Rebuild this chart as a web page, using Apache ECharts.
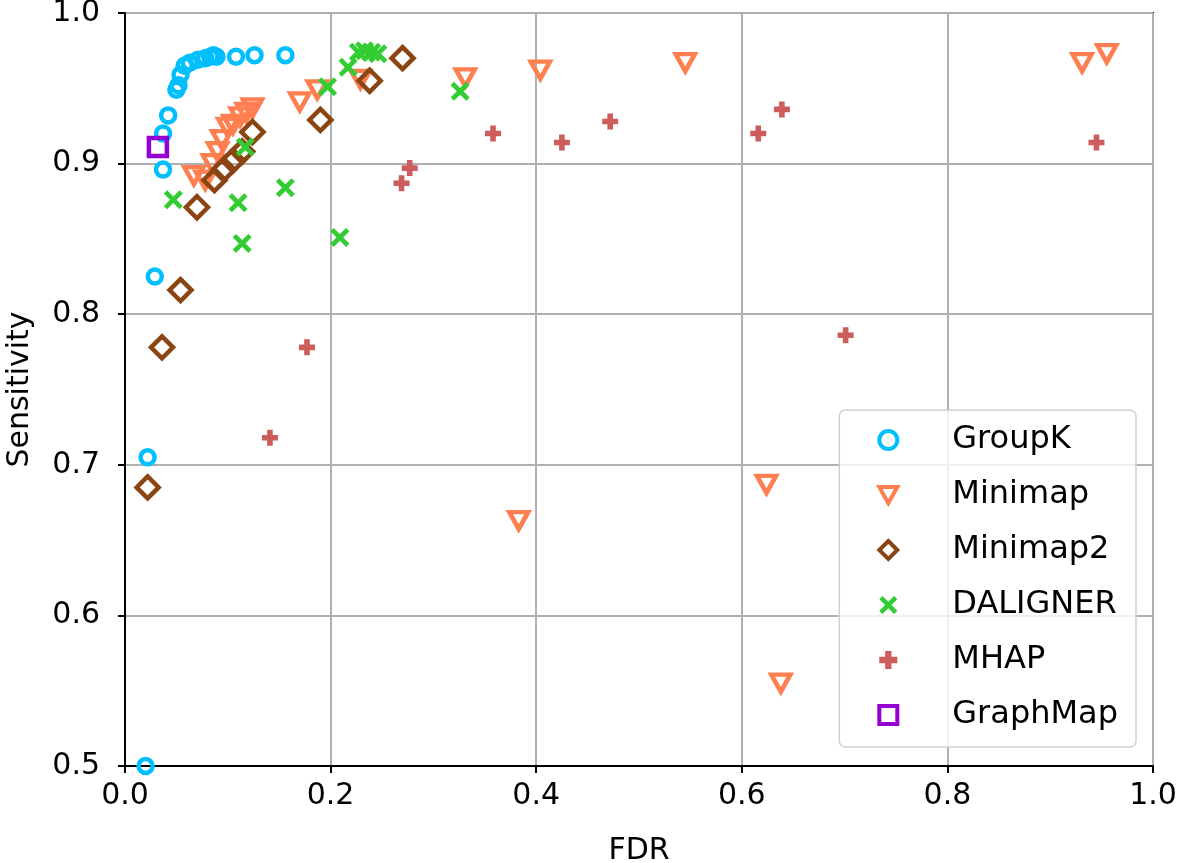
<!DOCTYPE html>
<html>
<head>
<meta charset="utf-8">
<script src="https://cdn.jsdelivr.net/npm/echarts@6/dist/echarts.min.js"></script>
<style>
html,body{margin:0;padding:0;background:#fff;}
#chart{width:1179px;height:863px;}
</style>
</head>
<body>
<div id="chart"></div>
<script>
const seriesNames = ["GroupK", "Minimap", "Minimap2", "DALIGNER", "MHAP", "GraphMap"];
const xTicks = [0.0, 0.2, 0.4, 0.6, 0.8, 1.0];
const yTicks = [0.5, 0.6, 0.7, 0.8, 0.9, 1.0];

const groupK = [
  [0.020, 0.500], [0.022, 0.705], [0.029, 0.825], [0.037, 0.896], [0.037, 0.920],
  [0.042, 0.932], [0.050, 0.949], [0.052, 0.952], [0.054, 0.959], [0.058, 0.965],
  [0.063, 0.967], [0.071, 0.969], [0.078, 0.970], [0.083, 0.971], [0.086, 0.972],
  [0.089, 0.971], [0.108, 0.971], [0.126, 0.972], [0.156, 0.972]
];
const minimap = [
  [0.067, 0.892], [0.078, 0.889], [0.085, 0.900], [0.090, 0.908], [0.094, 0.916],
  [0.100, 0.924], [0.105, 0.926], [0.112, 0.931], [0.118, 0.934], [0.124, 0.937],
  [0.170, 0.941], [0.187, 0.949], [0.229, 0.956], [0.331, 0.957], [0.404, 0.962],
  [0.545, 0.967], [0.931, 0.967], [0.955, 0.973], [0.383, 0.663], [0.624, 0.687],
  [0.638, 0.555]
];
const minimap2 = [
  [0.022, 0.685], [0.036, 0.778], [0.054, 0.816], [0.070, 0.871], [0.087, 0.889],
  [0.096, 0.896], [0.105, 0.902], [0.114, 0.908], [0.124, 0.921], [0.190, 0.929],
  [0.238, 0.955], [0.270, 0.970]
];
const daligner = [
  [0.047, 0.876], [0.110, 0.874], [0.114, 0.847], [0.117, 0.911], [0.156, 0.884],
  [0.209, 0.851], [0.197, 0.951], [0.217, 0.964], [0.227, 0.974], [0.233, 0.975],
  [0.240, 0.974], [0.246, 0.973], [0.326, 0.948]
];
const mhap = [
  [0.141, 0.718], [0.177, 0.778], [0.269, 0.887], [0.277, 0.897], [0.358, 0.920],
  [0.425, 0.914], [0.472, 0.928], [0.616, 0.920], [0.639, 0.936], [0.701, 0.786],
  [0.945, 0.914]
];
const graphMap = [
  [0.032, 0.911]
];

const FONT = "DejaVu Sans";
const xPath = 'path://M-1,-0.65L-0.65,-1L0,-0.35L0.65,-1L1,-0.65L0.35,0L1,0.65L0.65,1L0,0.35L-0.65,1L-1,0.65L-0.35,0Z';
const plusPath = 'path://M-0.35,-1H0.35V-0.35H1V0.35H0.35V1H-0.35V0.35H-1V-0.35H-0.35Z';
const triDownPath = 'path://M-1,-0.9L1,-0.9L0,0.9Z';

const styles = {
  GroupK:   { symbol: 'circle',   size: 14,       color: '#00BFFF', hollow: true },
  Minimap:  { symbol: triDownPath, size: [19, 17], color: '#FF7F50', hollow: true },
  Minimap2: { symbol: 'diamond',  size: 22,       color: '#8B4513', hollow: true },
  DALIGNER: { symbol: xPath,      size: 19,       color: '#32CD32', hollow: false },
  MHAP:     { symbol: plusPath,   size: 16,       color: '#CD5C5C', hollow: false },
  GraphMap: { symbol: 'rect',     size: 18,       color: '#9400D3', hollow: true }
};
const dataByName = { GroupK: groupK, Minimap: minimap, Minimap2: minimap2, DALIGNER: daligner, MHAP: mhap, GraphMap: graphMap };

function itemStyleFor(s) {
  return s.hollow
    ? { color: 'rgba(255,255,255,0)', borderColor: s.color, borderWidth: 4.5, opacity: 1 }
    : { color: s.color, borderWidth: 0, opacity: 1 };
}

const series = seriesNames.map(n => {
  const s = styles[n];
  return {
    name: n, type: 'scatter', data: dataByName[n], symbol: s.symbol, symbolSize: s.size,
    itemStyle: itemStyleFor(s), emphasis: { disabled: true }, animation: false
  };
});

const legendData = seriesNames.map(n => {
  const s = styles[n];
  const st = itemStyleFor(s);
  if (s.hollow) st.borderWidth = 4;
  return { name: n, icon: s.symbol, itemStyle: st };
});

const chart = echarts.init(document.getElementById('chart'), null, { renderer: 'canvas' });
chart.setOption({
  backgroundColor: '#fff',
  animation: false,
  grid: {
    left: 125, right: 26, top: 13, bottom: 97,
    outerBoundsMode: 'none', containLabel: false,
    show: true, borderColor: '#000', borderWidth: 2, backgroundColor: 'transparent'
  },
  legend: {
    orient: 'vertical', right: 43, top: 410,
    backgroundColor: 'rgba(255,255,255,0.8)', borderColor: '#d0d0d0', borderWidth: 1.5, borderRadius: 6,
    padding: [14, 18, 16, 38],
    itemGap: 23, itemWidth: 18, itemHeight: 18,
    textStyle: { fontFamily: FONT, fontSize: 32, color: '#000', padding: [0, 0, 0, 50] },
    data: legendData
  },
  xAxis: {
    type: 'value', min: 0, max: 1, interval: 0.2,
    name: 'FDR', nameLocation: 'middle', nameGap: 70,
    nameTextStyle: { fontFamily: FONT, fontSize: 30, color: '#000' },
    axisLine: { show: true, onZero: false, lineStyle: { color: '#000', width: 2 } },
    axisTick: { show: true, length: 7, inside: false, lineStyle: { color: '#000', width: 2 } },
    axisLabel: { fontFamily: FONT, fontSize: 30, color: '#000', margin: 15,
      formatter: v => v.toFixed(1) },
    splitLine: { show: true, lineStyle: { color: '#b0b0b0', width: 2 } }
  },
  yAxis: {
    type: 'value', min: 0.5, max: 1.0, interval: 0.1,
    name: 'Sensitivity', nameLocation: 'middle', nameGap: 90, nameRotate: 90,
    nameTextStyle: { fontFamily: FONT, fontSize: 30, color: '#000' },
    axisLine: { show: true, onZero: false, lineStyle: { color: '#000', width: 2 } },
    axisTick: { show: true, length: 7, inside: false, lineStyle: { color: '#000', width: 2 } },
    axisLabel: { fontFamily: FONT, fontSize: 30, color: '#000', margin: 25,
      formatter: v => v.toFixed(1) },
    splitLine: { show: true, lineStyle: { color: '#b0b0b0', width: 2 } }
  },
  series: series
});
</script>
</body>
</html>
